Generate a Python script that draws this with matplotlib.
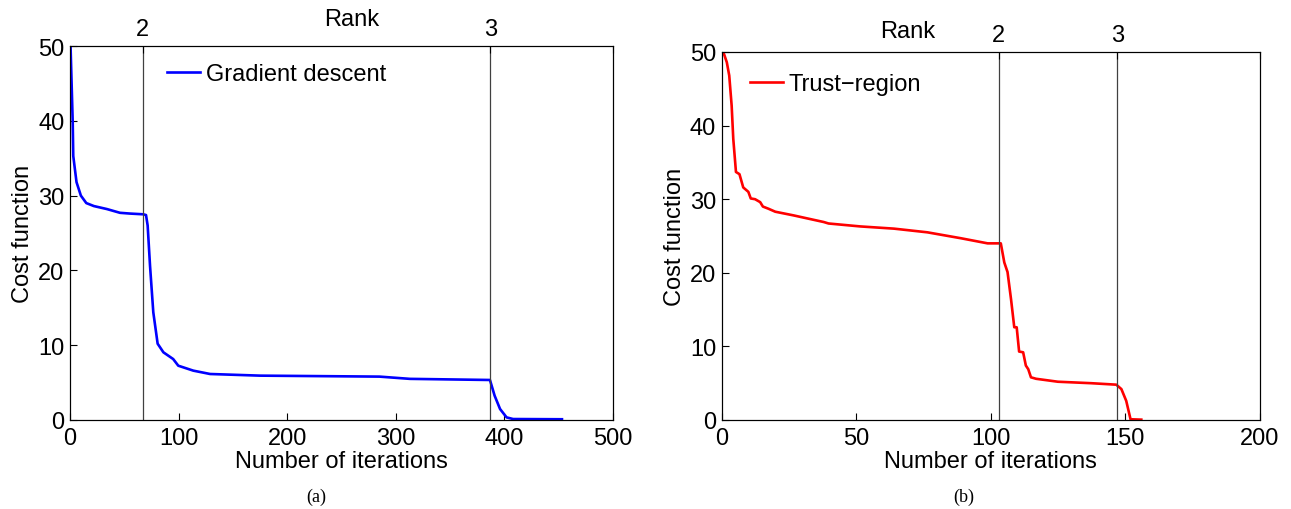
import matplotlib
matplotlib.use("Agg")
import matplotlib.pyplot as plt

plt.rcParams['font.family'] = ['Liberation Sans', 'DejaVu Sans']
plt.rcParams['font.size'] = 17

# (a) gradient descent
gd_iter = [0.5, 2.5, 3, 6, 10, 15, 22, 34, 46, 55, 67.5, 70, 71.5, 73.7, 76.7, 80.7, 86, 95,
           99.7, 113.5, 129, 175, 285, 313, 386.7, 391, 396, 402, 408, 453]
gd_cost = [50, 39.8, 35.3, 31.8, 30.0, 29.0, 28.6, 28.2, 27.7, 27.6, 27.5, 27.4, 26.0, 20.6,
           14.4, 10.2, 9.05, 8.15, 7.26, 6.6, 6.15, 5.93, 5.8, 5.5, 5.35, 3.25, 1.47, 0.35,
           0.13, 0.1]
gd_rank_iter = [67, 387]

# (b) trust-region
tr_iter = [0.6, 1.9, 2.8, 3.7, 4.3, 5.3, 6.6, 8, 9.9, 10.8, 12.4, 14.3, 15.3, 17.4, 19.9,
           26.7, 32.9, 37.9, 39.7, 51.5, 64, 76.4, 88.8, 98.8, 103.7, 105, 106.2, 107.5,
           108.7, 109.6, 110.5, 112, 113, 113.9, 114.9, 116.8, 124.9, 137.3, 146.6, 148.5,
           150.3, 151.9, 155.9]
tr_cost = [50, 48.6, 46.8, 42.7, 38.2, 33.7, 33.4, 31.6, 31.0, 30.1, 30.0, 29.6, 29.0, 28.7,
           28.3, 27.8, 27.3, 26.9, 26.7, 26.3, 26.0, 25.5, 24.7, 24.0, 24.0, 21.4, 20.1, 16.4,
           12.6, 12.6, 9.3, 9.2, 7.4, 6.9, 5.8, 5.6, 5.2, 5.0, 4.8, 4.2, 2.6, 0.1, 0.05]
tr_rank_iter = [103, 147]

rank_labels = ['2', '3', '']

W, H = 1291, 510
fig = plt.figure(figsize=(W / 100, H / 100), dpi=100)


def make_panel(rect, x, y, color, label, xmax, xticks, ranks, leg_xy, caption, cap_x, rank_xy):
    ax = fig.add_axes(rect)
    ax.plot(x, y, color=color, lw=1.9, label=label)
    for r in ranks:
        ax.axvline(r, color='#404040', lw=0.9)
    ax.set_xlim(0, xmax)
    ax.set_ylim(0, 50)
    ax.set_xticks(xticks)
    ax.set_yticks([0, 10, 20, 30, 40, 50])
    ax.tick_params(direction='in', length=5, width=0.8, top=False, right=False)
    ax.tick_params(axis='x', pad=5)
    ax.tick_params(axis='y', pad=4)
    ax.set_xlabel('Number of iterations', labelpad=1)
    ax.set_ylabel('Cost function', labelpad=3)
    for s in ax.spines.values():
        s.set_linewidth(0.8)
    ax.legend(loc='center left', bbox_to_anchor=leg_xy, frameon=False, borderpad=0,
              borderaxespad=0, handlelength=1.4, handletextpad=0.25)

    top = ax.twiny()
    top.set_xlim(0, xmax)
    top.set_xticks(ranks + [xmax])
    top.set_xticklabels(rank_labels)
    top.tick_params(direction='in', length=5, width=0.8, pad=4)
    fig.text(rank_xy[0] / W, 1 - rank_xy[1] / H, 'Rank', ha='center', va='center')
    fig.text(cap_x / W, 1 - 497 / H, caption, ha='center', va='center',
             family=['Liberation Serif', 'DejaVu Serif'], fontsize=13)
    return ax


make_panel([70 / W, 1 - 421 / H, 543 / W, 374 / H], gd_iter, gd_cost, '#0000ff',
           'Gradient descent', 500, [0, 100, 200, 300, 400, 500], gd_rank_iter,
           (0.1786, 0.925), '(a)', 316, (352, 20))
make_panel([721.7 / W, 1 - 421 / H, 538.3 / W, 368 / H], tr_iter, tr_cost, '#ff0000',
           'Trust\u2212region', 200, [0, 50, 100, 150, 200], tr_rank_iter,
           (0.0526, 0.913), '(b)', 964, (908, 32))

fig.savefig('out.png', dpi=100)
